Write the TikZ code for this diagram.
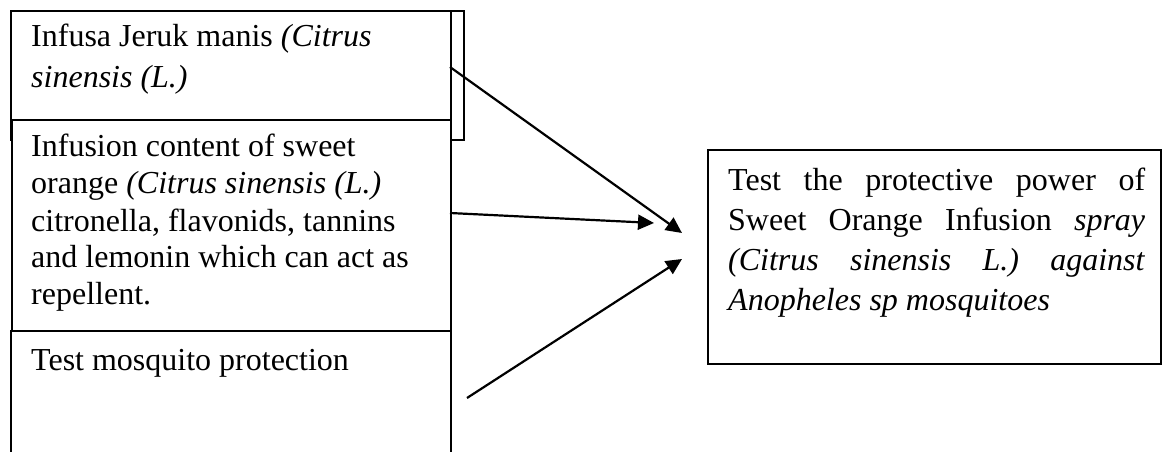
\documentclass[tikz,border=0pt]{standalone}
\usepackage{fontspec}
\setmainfont{Liberation Serif}
\usetikzlibrary{arrows.meta}

\tikzset{
  frame/.style={draw=black, line width=1.6pt, fill=white, inner sep=0pt,
    anchor=north west, rectangle},
  txt/.style={anchor=base west, inner sep=0pt},
  link/.style={draw=black, line width=2.2pt,
    -{Triangle[length=16pt, width=15pt]}},
}

\begin{document}
\begin{tikzpicture}[x=1pt, y=-1pt]
\clip (0,0) rectangle (1163,452);
\fill[white] (0,0) rectangle (1163,452);

% stacked boxes on the left
\node[frame, minimum width=453pt, minimum height=129pt] (back) at (10,10) {};
\node[frame, minimum width=440pt, minimum height=109pt] (box1) at (10,10) {};
\node[frame, minimum width=439pt, minimum height=211pt] (box2) at (11,119) {};
\node[frame, minimum width=440pt, minimum height=140pt] (box3) at (10,330) {};

% result box on the right
\node[frame, minimum width=453pt, minimum height=214pt] (goal) at (707,149) {};

% texts
\node[txt] (t1) at (31,47) {\parbox[t]{415pt}{\fontsize{32}{41}\selectfont\raggedright
  Infusa Jeruk manis \textit{(Citrus}\\
  \textit{sinensis (L.)}}};
\node[txt] (t2) at (31,157) {\parbox[t]{415pt}{\fontsize{32}{37}\selectfont\raggedright
  Infusion content of sweet\\
  orange \textit{(Citrus sinensis (L.)}\\
  citronella, flavonids, tannins\\
  and lemonin which can act as\\
  repellent.}};
\node[txt] (t3) at (31,370) {\fontsize{32}{40}\selectfont Test mosquito protection};
\node[txt] (t4) at (728,190) {\parbox[t]{417pt}{\fontsize{32}{40}\selectfont
  Test the protective power of\linebreak
  Sweet Orange Infusion \textit{spray}\linebreak
  \textit{(Citrus sinensis L.) against}\linebreak
  \textit{Anopheles sp mosquitoes}}};

% connector end points
\coordinate (s1) at (450,67);
\coordinate (e1) at (682,233);
\coordinate (s2) at (450,213);
\coordinate (e2) at (654,223);
\coordinate (s3) at (467,398);
\coordinate (e3) at (682,259);

\draw[link] (s1) -- (e1);
\draw[link] (s2) -- (e2);
\draw[link] (s3) -- (e3);
\end{tikzpicture}
\end{document}
